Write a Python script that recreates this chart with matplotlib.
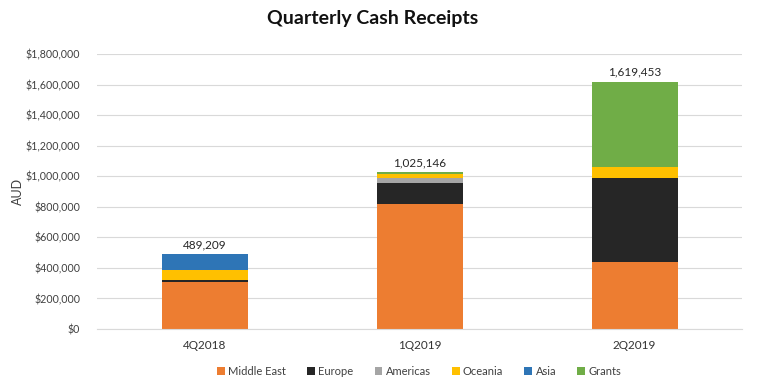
import matplotlib
matplotlib.use("Agg")
import matplotlib.pyplot as plt
import numpy as np
from matplotlib.ticker import FuncFormatter

categories = ["4Q2018", "1Q2019", "2Q2019"]
series_names = ["Middle East", "Europe", "Americas", "Oceania", "Asia", "Grants"]
middle_east = [308000, 820000, 439000]
europe = [16000, 137000, 551000]
americas = [0, 33000, 0]
oceania = [63000, 28000, 69000]
asia = [102209, 0, 0]
grants = [0, 7146, 560453]
totals = [489209, 1025146, 1619453]
total_labels = ["489,209", "1,025,146", "1,619,453"]

colors = ["#ED7D31", "#262626", "#A5A5A5", "#FFC000", "#2E75B6", "#70AD47"]

plt.rcParams['font.family'] = ['Lato', 'DejaVu Sans']

fig = plt.figure(figsize=(7.58, 3.86), dpi=100)
ax = fig.add_axes([0.128, 0.1477, 0.851, 0.712])

x = np.arange(len(categories))
bottom = np.zeros(len(categories))
for name, vals, c in zip(series_names, [middle_east, europe, americas, oceania, asia, grants], colors):
    v = np.array(vals, dtype=float)
    ax.bar(x, v, 0.4, bottom=bottom, color=c, label=name, linewidth=0)
    bottom += v

for xi, t, lab in zip(x, totals, total_labels):
    ax.text(xi, t + 25000, lab, ha="center", va="bottom", fontsize=8.5, color="#262626")

ax.set_xlim(-0.5, 2.5)
ax.set_ylim(0, 1800000)
ax.set_yticks(np.arange(0, 1800001, 200000))
ax.yaxis.set_major_formatter(FuncFormatter(lambda v, p: "${:,.0f}".format(v)))
ax.set_xticks(x)
ax.set_xticklabels(categories)
ax.tick_params(axis="x", length=0, labelsize=8.5, colors="#333333", pad=8)
ax.tick_params(axis="y", length=0, labelsize=7.7, colors="#404040", pad=12)
ax.grid(axis="y", color="#D9D9D9", linewidth=0.8)
ax.set_axisbelow(True)
for s in ["top", "right", "left"]:
    ax.spines[s].set_visible(False)
ax.spines["bottom"].set_color("#D9D9D9")
ax.set_ylabel("AUD", fontsize=9, color="#404040")
ax.yaxis.set_label_coords(-0.113, 0.5)

fig.suptitle("Quarterly Cash Receipts", fontsize=14, fontweight="bold", x=0.492, y=0.975, color="#111111")

handles, labels = ax.get_legend_handles_labels()
fig.legend(handles, labels, loc="center", bbox_to_anchor=(0.553, 0.037), ncol=6, frameon=False,
           fontsize=8, handlelength=0.7, handleheight=0.7, handletextpad=0.3, columnspacing=1.9,
           labelcolor="#404040")

fig.savefig("out.png", dpi=100)
